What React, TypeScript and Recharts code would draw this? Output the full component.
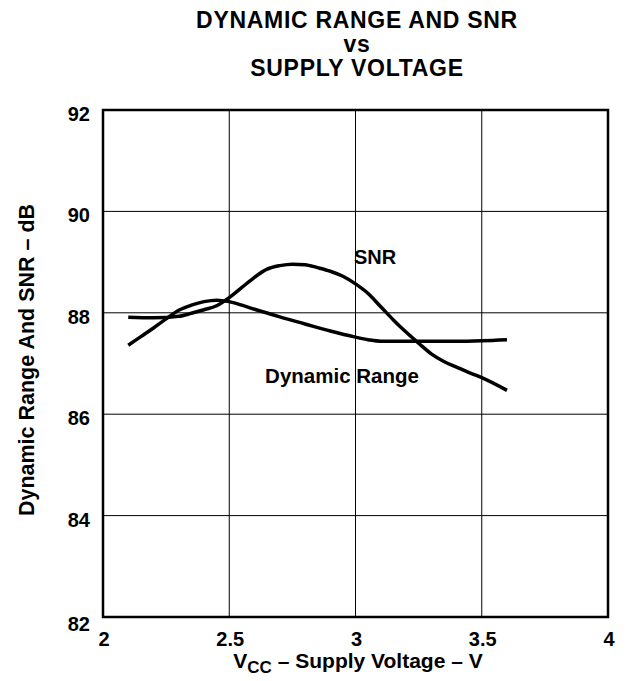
import React from 'react';
import { LineChart, Line, XAxis, YAxis, CartesianGrid, ReferenceArea } from 'recharts';

const snrVolts = [2.1, 2.2, 2.3, 2.35, 2.4, 2.45, 2.5, 2.55, 2.6, 2.65, 2.7, 2.75, 2.8, 2.85, 2.9, 2.95, 3.0, 3.05, 3.1, 3.15, 3.2, 3.25, 3.3, 3.35, 3.4, 3.45, 3.5, 3.6];
const snrDb = [87.91, 87.9, 87.93, 87.99, 88.06, 88.14, 88.3, 88.5, 88.7, 88.86, 88.93, 88.96, 88.95, 88.89, 88.82, 88.72, 88.57, 88.38, 88.12, 87.86, 87.62, 87.4, 87.19, 87.04, 86.93, 86.82, 86.72, 86.47];

const drVolts = [2.1, 2.15, 2.2, 2.25, 2.3, 2.35, 2.4, 2.45, 2.5, 2.55, 2.6, 2.7, 2.8, 2.9, 3.0, 3.05, 3.1, 3.2, 3.3, 3.4, 3.5, 3.6];
const drDb = [87.36, 87.53, 87.7, 87.88, 88.05, 88.15, 88.22, 88.25, 88.22, 88.15, 88.07, 87.92, 87.78, 87.64, 87.52, 87.47, 87.44, 87.44, 87.44, 87.44, 87.45, 87.47];

const xTicks = [2, 2.5, 3, 3.5, 4];
const yTicks = [82, 84, 86, 88, 90, 92];

const snrData = snrVolts.map((v, i) => ({ v, db: snrDb[i] }));
const drData = drVolts.map((v, i) => ({ v, db: drDb[i] }));

const FONT = '"Liberation Sans", Arial, sans-serif';

const YTick = (props: any) => {
  const { y, payload } = props;
  const val = payload.value;
  const dy = val === 82 ? 14 : 11;
  return (
    <text x={82} y={y + dy} textAnchor="end" fontFamily={FONT} fontWeight="bold" fontSize={20} fill="#000">
      {val}
    </text>
  );
};

const XTick = (props: any) => {
  const { x, payload } = props;
  return (
    <text x={x + 1} y={638} textAnchor="middle" fontFamily={FONT} fontWeight="bold" fontSize={20} fill="#000">
      {payload.value}
    </text>
  );
};

const textStyle: React.CSSProperties = {
  position: 'absolute',
  fontFamily: FONT,
  fontWeight: 'bold',
  color: '#000',
  whiteSpace: 'nowrap',
  transform: 'translate(-50%, -50%)',
  lineHeight: 1,
};

export default function App() {
  return (
    <div style={{ position: 'relative', width: 612, height: 665 }}>
      <LineChart width={612} height={665} data={snrData} margin={{ top: 102, right: 12, bottom: 26, left: 0 }}>
        <CartesianGrid stroke="#000" strokeWidth={1} horizontalValues={yTicks} verticalValues={xTicks} />
        <XAxis
          type="number"
          dataKey="v"
          domain={[2, 4]}
          ticks={xTicks}
          tick={<XTick />}
          tickLine={false}
          axisLine={false}
          height={30}
          allowDataOverflow
        />
        <YAxis
          type="number"
          domain={[82, 92]}
          ticks={yTicks}
          tick={<YTick />}
          tickLine={false}
          axisLine={false}
          width={95}
          allowDataOverflow
        />
        <ReferenceArea x1={2} x2={4} y1={82} y2={92} fill="none" stroke="#000" strokeWidth={2.5} ifOverflow="visible" />
        <Line data={snrData} dataKey="db" type="monotone" stroke="#000" strokeWidth={3.5} dot={false} isAnimationActive={false} />
        <Line data={drData} dataKey="db" type="monotone" stroke="#000" strokeWidth={3.5} dot={false} isAnimationActive={false} />
      </LineChart>

      <div style={{ ...textStyle, left: 349, top: 12, fontSize: 23, letterSpacing: 0.7 }}>DYNAMIC RANGE AND SNR</div>
      <div style={{ ...textStyle, left: 349, top: 36, fontSize: 23, letterSpacing: 0.7 }}>vs</div>
      <div style={{ ...textStyle, left: 349, top: 60, fontSize: 23, letterSpacing: 0.7 }}>SUPPLY VOLTAGE</div>

      <div style={{ ...textStyle, left: 367, top: 249, fontSize: 20 }}>SNR</div>
      <div style={{ ...textStyle, left: 334, top: 368, fontSize: 20.5 }}>Dynamic Range</div>

      <div style={{ ...textStyle, left: 350, top: 655, fontSize: 21 }}>
        V<sub style={{ fontSize: 17, verticalAlign: -5 }}>CC</sub> – Supply Voltage – V
      </div>
      <div style={{ ...textStyle, left: 20, top: 352, fontSize: 21.5, transform: 'translate(-50%, -50%) rotate(-90deg)' }}>
        Dynamic Range And SNR – dB
      </div>
    </div>
  );
}
